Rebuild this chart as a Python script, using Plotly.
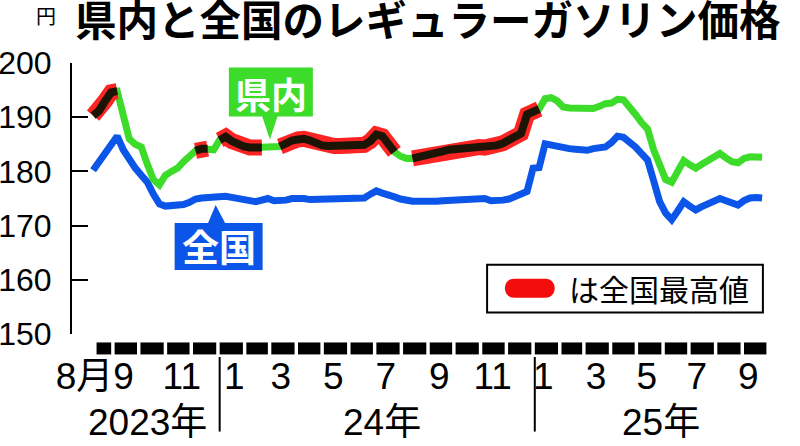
import pandas as pd
import plotly.graph_objects as go

# weekly survey, Mon 2023-08-07 .. 2025-09-22
weeks = pd.date_range("2023-08-07", periods=112, freq="7D")

national = [180.2, 181.8, 183.6, 185.4, 186.5, 184.0, 182.0, 180.6, 179.3, 178.0,
            175.8, 174.0, 173.6, 173.6, 173.7, 173.9, 174.3, 174.9, 175.1, 175.2,
            175.1, 175.5, 175.4, 175.2, 174.9, 174.8, 174.6, 174.4, 174.7, 175.0,
            174.6, 174.5, 174.7, 175.0, 175.1, 175.0, 174.8, 174.8, 174.9, 175.1,
            175.0, 174.9, 175.0, 175.1, 175.0, 175.1, 175.8, 176.4, 176.0, 175.5,
            175.3, 174.9, 174.6, 174.5, 174.5, 174.4, 174.4, 174.5, 174.6, 174.7,
            174.8, 174.9, 175.0, 175.1, 175.1, 175.0, 174.6, 174.5, 174.7, 174.9,
            175.3, 175.9, 176.3, 180.6, 180.7, 185.1, 184.8, 184.5, 184.3, 184.2,
            184.1, 184.0, 183.9, 184.2, 184.5, 184.5, 185.3, 186.5, 186.3, 185.5,
            184.5, 183.3, 182.1, 178.3, 174.4, 172.3, 171.1, 172.7, 174.4, 173.6,
            172.9, 173.5, 173.9, 174.3, 175.0, 174.6, 174.1, 173.8, 174.6, 175.1,
            175.2, 175.1]

prefecture = [190.3, 191.2, 193.0, 194.6, 194.8, 190.5, 186.0, 185.0, 184.5, 181.3,
              178.5, 177.5, 179.3, 180.0, 180.6, 181.8, 182.8, 183.8, 184.2, 184.2,
              184.0, 185.8, 186.4, 185.6, 185.0, 184.6, 184.4, 184.4, 184.4, 184.4,
              184.5, 184.6, 185.2, 185.7, 185.9, 186.0, 185.7, 185.1, 184.8, 184.7,
              184.7, 184.7, 184.6, 184.7, 184.8, 184.9, 185.6, 186.8, 186.5, 185.0,
              183.6, 182.8, 182.4, 182.4, 182.6, 182.8, 183.0, 183.3, 183.7, 184.0,
              184.1, 184.2, 184.2, 184.3, 184.5, 184.4, 184.5, 184.8, 185.2, 185.8,
              186.5, 187.0, 190.5, 191.0, 191.5, 193.4, 193.6, 193.0, 191.9, 191.7,
              191.6, 191.6, 191.6, 191.6, 192.0, 192.5, 192.6, 193.3, 193.2, 192.0,
              190.5, 189.0, 187.8, 184.0, 181.0, 178.5, 178.0, 180.0, 182.0, 181.2,
              180.6, 181.3, 182.0, 182.6, 183.3, 182.5, 181.8, 181.6, 182.4, 182.7,
              182.7, 182.6]

# week index ranges where the prefecture was the highest in the country
top_ranges = [(0, 4), (17, 19), (21, 28), (31, 50), (53, 74)]

tick_dates = ["2023-08-09", "2023-11-18", "2024-01-18", "2024-03-12", "2024-05-12",
              "2024-07-12", "2024-09-12", "2024-11-13", "2025-01-11", "2025-03-13",
              "2025-05-11", "2025-07-08", "2025-09-06"]
tick_text = ["8月9", "11", "1", "3", "5", "7", "9", "11", "1", "3", "5", "7", "9"]
year_starts = ["2024-01-01", "2025-01-01"]
year_label_dates = ["2023-10-09", "2024-07-07", "2025-05-28"]
year_labels = ["2023年", "24年", "25年"]

GREEN = "#3ddc2a"
BLUE = "#0b55e8"
NUM_FONT = "Liberation Sans, Arial, Noto Sans CJK JP"
JP_FONT = "Noto Sans CJK JP"

top = [v if any(a <= i <= b for a, b in top_ranges) else None
       for i, v in enumerate(prefecture)]

fig = go.Figure()
fig.add_trace(go.Scatter(x=weeks, y=national, mode="lines",
                         line=dict(color=BLUE, width=7), showlegend=False))
fig.add_trace(go.Scatter(x=weeks, y=prefecture, mode="lines",
                         line=dict(color=GREEN, width=7), showlegend=False))
fig.add_trace(go.Scatter(x=weeks, y=top, mode="lines", connectgaps=False,
                         line=dict(color="#ff2424", width=16), showlegend=False))
fig.add_trace(go.Scatter(x=weeks, y=top, mode="lines", connectgaps=False,
                         line=dict(color="#1c1405", width=8), showlegend=False))

shapes = []
# month blocks under the plot
months = pd.date_range("2023-08-01", "2025-09-01", freq="MS")
for m in months:
    x0 = max(m, weeks[0] + pd.Timedelta(days=4))
    x1 = m + pd.offsets.MonthBegin(1) - pd.Timedelta(days=4)
    shapes.append(dict(type="rect", xref="x", yref="paper", x0=x0, x1=x1,
                       y0=-0.0754, y1=-0.0312, fillcolor="black", line_width=0))
for ys in year_starts:
    shapes.append(dict(type="line", xref="x", yref="paper", x0=ys, x1=ys,
                       y0=-0.085, y1=-0.36, line=dict(color="black", width=2)))

# callout: 県内
k = 29
shapes.append(dict(type="path", xref="x", yref="y", xsizemode="pixel", ysizemode="pixel",
                   xanchor=weeks[k], yanchor=prefecture[k],
                   path="M -39,31 L 45,31 L 45,80 L -39,80 Z",
                   fillcolor=GREEN, line_width=0))
shapes.append(dict(type="path", xref="x", yref="y", xsizemode="pixel", ysizemode="pixel",
                   xanchor=weeks[k], yanchor=prefecture[k],
                   path="M -6,32 L 10,32 L 2,8 Z", fillcolor=GREEN, line_width=0))
# callout: 全国
n = 20
shapes.append(dict(type="path", xref="x", yref="y", xsizemode="pixel", ysizemode="pixel",
                   xanchor=weeks[n], yanchor=national[n],
                   path="M -39,-25 L 49,-25 L 49,-72 L -39,-72 Z",
                   fillcolor=BLUE, line_width=0))
shapes.append(dict(type="path", xref="x", yref="y", xsizemode="pixel", ysizemode="pixel",
                   xanchor=weeks[n], yanchor=national[n],
                   path="M -6,-26 L 12,-26 L 2,-7 Z", fillcolor=BLUE, line_width=0))

# legend box
shapes.append(dict(type="rect", xref="paper", yref="paper", x0=0.593, x1=0.987,
                   y0=0.079, y1=0.2555, fillcolor="white", line=dict(color="black", width=2)))
shapes.append(dict(type="path", xref="paper", yref="paper", xsizemode="pixel", ysizemode="pixel",
                   xanchor=0.654, yanchor=0.169,
                   path="M -15.5,9.5 L 15.5,9.5 C 28,9.5 28,-9.5 15.5,-9.5 L -15.5,-9.5 "
                        "C -28,-9.5 -28,9.5 -15.5,9.5 Z",
                   fillcolor="#f50d0d", line_width=0))

annotations = [
    dict(x=weeks[k], y=prefecture[k], xref="x", yref="y", xshift=3, yshift=55,
         text="<b>県内</b>", showarrow=False, font=dict(family=JP_FONT, size=36, color="white")),
    dict(x=weeks[n], y=national[n], xref="x", yref="y", xshift=5, yshift=-48,
         text="<b>全国</b>", showarrow=False, font=dict(family=JP_FONT, size=37, color="white")),
    dict(x=0.707, y=0.169, xref="paper", yref="paper", xanchor="left", yanchor="middle",
         text="は全国最高値", showarrow=False, font=dict(family=JP_FONT, size=30, color="black")),
    dict(x=(46 - 72) / 700, y=(334.5 - 15) / 272, xref="paper", yref="paper",
         xanchor="center", yanchor="middle", text="円", showarrow=False,
         font=dict(family=JP_FONT, size=20, color="black")),
]
for d, t in zip(year_label_dates, year_labels):
    annotations.append(dict(x=d, y=-0.325, xref="x", yref="paper", text=t, showarrow=False,
                            yanchor="middle", font=dict(family=NUM_FONT, size=37, color="black")))

fig.update_layout(
    width=800, height=446,
    margin=dict(l=72, r=28, t=62.5, b=111.5),
    paper_bgcolor="white", plot_bgcolor="white",
    title=dict(text="<b>県内と全国のレギュラーガソリン価格</b>", x=75 / 800, xanchor="left",
               xref="container", y=1 - 21.5 / 446, yanchor="middle", yref="container",
               font=dict(family=JP_FONT, size=41.5, color="black")),
    xaxis=dict(type="date", range=["2023-07-13 12:00", "2025-10-03 12:00"], showgrid=False,
               showline=False, zeroline=False, ticks="", tickvals=tick_dates,
               ticktext=tick_text, ticklabelstandoff=17, automargin=False,
               tickfont=dict(family=NUM_FONT, size=37, color="black")),
    yaxis=dict(range=[150, 200], tickvals=[150, 160, 170, 180, 190, 200], showgrid=False,
               zeroline=False, showline=True, linecolor="black", linewidth=2,
               ticks="inside", ticklen=16, tickwidth=2, tickcolor="black",
               ticklabelstandoff=12, automargin=False,
               tickfont=dict(family=NUM_FONT, size=32, color="black")),
    shapes=shapes,
    annotations=annotations,
    showlegend=False,
)

# drop the default page margin so the figure sits at the window corner
fig.write_html("out.html", config={"displayModeBar": False},
               post_script="document.body.style.margin='0';")
